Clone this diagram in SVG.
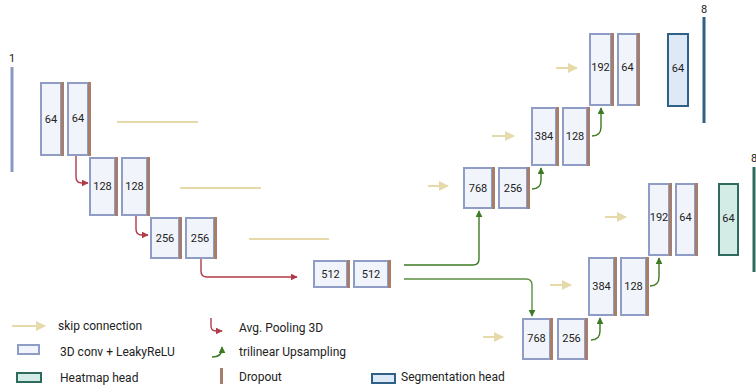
<svg xmlns="http://www.w3.org/2000/svg" width="756" height="387" viewBox="0 0 756 387">
<style>
text{font-family:Roboto,"Liberation Sans",Arial,sans-serif;fill:#222}
.bl{font-size:11px;text-anchor:middle;dominant-baseline:central}
.lg{font-size:12px}
.box{fill:#f1f4fa;stroke:#8e9cc6;stroke-width:2}
.drop{fill:#a77e6a}
.seg{fill:#dde9f7;stroke:#2f6088;stroke-width:2}
.heat{fill:#d4ece6;stroke:#2e6b5e;stroke-width:2}
.skip{stroke:#e6d9aa;stroke-width:2;fill:none}
.pool{stroke:#b23a48;stroke-width:1.4;fill:none}
.up{stroke:#3d7a22;stroke-width:1.4;fill:none}
</style>
<defs>
<marker id="ahSkip" viewBox="0 0 10 10" refX="9" refY="5" markerWidth="5" markerHeight="5" orient="auto" markerUnits="strokeWidth"><path d="M0,0 L10,5 L0,10 z" fill="#e6d9aa"/></marker>
<marker id="ahPool" viewBox="0 0 10 10" refX="9" refY="5" markerWidth="5" markerHeight="5" orient="auto" markerUnits="strokeWidth"><path d="M0,0 L10,5 L0,10 z" fill="#b23a48"/></marker>
<marker id="ahUp" viewBox="0 0 10 10" refX="9" refY="5" markerWidth="5" markerHeight="5" orient="auto" markerUnits="strokeWidth"><path d="M0,0 L10,5 L0,10 z" fill="#3d7a22"/></marker>
</defs>

<!-- input / output lines -->
<g id="input">
<line x1="12" y1="67" x2="12" y2="172" stroke="#8a9ac4" stroke-width="3"/>
<text x="12" y="62" font-size="11" text-anchor="middle">1</text>
</g>
<g id="seg-out">
<line x1="704" y1="17" x2="704" y2="123" stroke="#2f6088" stroke-width="3"/>
<text x="704" y="13" font-size="11" text-anchor="middle">8</text>
</g>
<g id="heat-out">
<line x1="754" y1="167" x2="754" y2="272" stroke="#2e6b5e" stroke-width="3"/>
<text x="751" y="162" font-size="11">8</text>
</g>

<!-- encoder -->
<g id="e1a"><rect class="box" x="41" y="83" width="20" height="72"/><rect class="drop" x="61" y="82" width="3" height="74"/><text class="bl" x="51" y="119">64</text></g>
<g id="e1b"><rect class="box" x="68" y="83" width="20" height="72"/><rect class="drop" x="88" y="82" width="3" height="74"/><text class="bl" x="78" y="118">64</text></g>
<g id="e2a"><rect class="box" x="90" y="158" width="25" height="57"/><rect class="drop" x="115" y="157" width="3" height="59"/><text class="bl" x="102.5" y="186">128</text></g>
<g id="e2b"><rect class="box" x="122" y="158" width="25" height="57"/><rect class="drop" x="147" y="157" width="3" height="59"/><text class="bl" x="134.5" y="186">128</text></g>
<g id="e3a"><rect class="box" x="151" y="218" width="28" height="40"/><rect class="drop" x="179" y="217" width="3" height="42"/><text class="bl" x="165" y="238">256</text></g>
<g id="e3b"><rect class="box" x="186" y="218" width="28" height="40"/><rect class="drop" x="214" y="217" width="3" height="42"/><text class="bl" x="200" y="238">256</text></g>
<g id="b1"><rect class="box" x="314" y="261" width="33" height="26"/><rect class="drop" x="347" y="260" width="3" height="28"/><text class="bl" x="330.5" y="274">512</text></g>
<g id="b2"><rect class="box" x="354" y="261" width="34" height="26"/><rect class="drop" x="388" y="260" width="3" height="28"/><text class="bl" x="371" y="274">512</text></g>

<!-- top decoder -->
<g id="t1a"><rect class="box" x="464" y="168" width="28" height="40"/><rect class="drop" x="492" y="167" width="3" height="42"/><text class="bl" x="478" y="188">768</text></g>
<g id="t1b"><rect class="box" x="499" y="168" width="28" height="40"/><rect class="drop" x="527" y="167" width="3" height="42"/><text class="bl" x="513" y="188">256</text></g>
<g id="t2a"><rect class="box" x="532" y="108" width="24" height="57"/><rect class="drop" x="556" y="107" width="3" height="59"/><text class="bl" x="544" y="136">384</text></g>
<g id="t2b"><rect class="box" x="563" y="108" width="24" height="57"/><rect class="drop" x="587" y="107" width="3" height="59"/><text class="bl" x="575" y="136">128</text></g>
<g id="t3a"><rect class="box" x="590" y="34" width="21" height="71"/><rect class="drop" x="611" y="33" width="3" height="73"/><text class="bl" x="600.5" y="67">192</text></g>
<g id="t3b"><rect class="box" x="618" y="34" width="19" height="71"/><rect class="drop" x="637" y="33" width="3" height="73"/><text class="bl" x="627.5" y="67">64</text></g>
<g id="seghead"><rect class="seg" x="668" y="34" width="20" height="72"/><text class="bl" x="678" y="68">64</text></g>

<!-- bottom decoder -->
<g id="u1a"><rect class="box" x="523" y="319" width="27" height="40"/><rect class="drop" x="550" y="318" width="3" height="42"/><text class="bl" x="536.5" y="338">768</text></g>
<g id="u1b"><rect class="box" x="558" y="319" width="27" height="40"/><rect class="drop" x="585" y="318" width="3" height="42"/><text class="bl" x="571.5" y="338">256</text></g>
<g id="u2a"><rect class="box" x="589" y="258" width="25" height="57"/><rect class="drop" x="614" y="257" width="3" height="59"/><text class="bl" x="601.5" y="286">384</text></g>
<g id="u2b"><rect class="box" x="621" y="258" width="25" height="57"/><rect class="drop" x="646" y="257" width="3" height="59"/><text class="bl" x="633.5" y="286">128</text></g>
<g id="u3a"><rect class="box" x="649" y="184" width="20" height="71"/><rect class="drop" x="669" y="183" width="3" height="73"/><text class="bl" x="659" y="217">192</text></g>
<g id="u3b"><rect class="box" x="676" y="184" width="19" height="71"/><rect class="drop" x="695" y="183" width="3" height="73"/><text class="bl" x="685.5" y="217">64</text></g>
<g id="heathead"><rect class="heat" x="719" y="184" width="19" height="71"/><text class="bl" x="728.5" y="218">64</text></g>

<!-- connectors -->
<g id="connectors">
<line class="skip" x1="117" y1="122" x2="198" y2="122"/>
<line class="skip" x1="180" y1="188" x2="261" y2="188"/>
<line class="skip" x1="249" y1="239" x2="329" y2="239"/>
<line class="skip" x1="428" y1="186" x2="448" y2="186" marker-end="url(#ahSkip)"/>
<line class="skip" x1="492" y1="136" x2="514" y2="136" marker-end="url(#ahSkip)"/>
<line class="skip" x1="556" y1="68" x2="577" y2="68" marker-end="url(#ahSkip)"/>
<line class="skip" x1="483" y1="337" x2="503" y2="337" marker-end="url(#ahSkip)"/>
<line class="skip" x1="550" y1="285" x2="571" y2="285" marker-end="url(#ahSkip)"/>
<line class="skip" x1="605" y1="217" x2="626" y2="217" marker-end="url(#ahSkip)"/>

<path class="pool" d="M76,156 V177 Q76,183 82,183 H88" marker-end="url(#ahPool)"/>
<path class="pool" d="M136,216 V229 Q136,235 142,235 H148" marker-end="url(#ahPool)"/>
<path class="pool" d="M201,259 V271 Q201,277 207,277 H297" marker-end="url(#ahPool)"/>

<path class="up" d="M404,265 H473 Q479,265 479,259 V211" marker-end="url(#ahUp)"/>
<path d="M404,279 H526 Q532,279 532,285 V316" fill="none" stroke="#5c8f44" stroke-width="1.4" marker-end="url(#ahUp)"/>
<path class="up" d="M532,189 Q541,189 541,180 V168" marker-end="url(#ahUp)"/>
<path class="up" d="M592,136 Q601,136 601,127 V108" marker-end="url(#ahUp)"/>
<path class="up" d="M591,340 Q600,340 600,331 V318" marker-end="url(#ahUp)"/>
<path class="up" d="M650,286 Q659,286 659,277 V258" marker-end="url(#ahUp)"/>
</g>

<!-- legend -->
<g id="legend">
<line class="skip" x1="12" y1="326" x2="45" y2="326" marker-end="url(#ahSkip)"/>
<text class="lg" x="58" y="330">skip connection</text>
<rect class="box" x="18" y="345" width="21" height="9"/>
<text class="lg" x="60" y="356">3D conv + LeakyReLU</text>
<rect class="heat" x="17" y="373" width="24" height="9"/>
<text class="lg" x="60" y="382">Heatmap head</text>
<path class="pool" d="M211,318 V326 Q211,331 216,331 H222" marker-end="url(#ahPool)"/>
<text class="lg" x="239" y="332">Avg. Pooling 3D</text>
<path class="up" d="M212,357 Q222,357 222,349 V347" marker-end="url(#ahUp)"/>
<text class="lg" x="239" y="356">trilinear Upsampling</text>
<rect class="drop" x="220" y="368" width="3" height="16"/>
<text class="lg" x="239" y="381">Dropout</text>
<rect class="seg" x="372" y="374" width="23" height="9"/>
<text class="lg" x="401" y="381">Segmentation head</text>
</g>
</svg>
